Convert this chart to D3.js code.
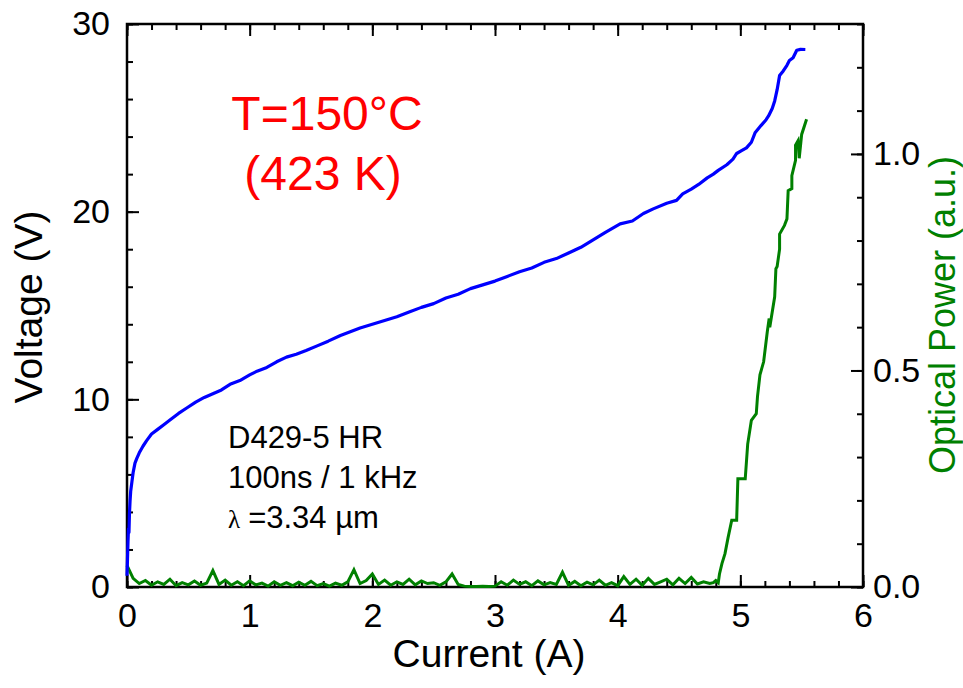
<!DOCTYPE html>
<html>
<head>
<meta charset="utf-8">
<script src="https://cdn.jsdelivr.net/npm/d3@7"></script>
<style>
  html, body { margin: 0; padding: 0; background: #fff; }
  svg { display: block; font-family: "Liberation Sans", Arial, sans-serif; }
</style>
</head>
<body>
<svg id="chart" width="963" height="688"></svg>
<script>
// Voltage–current characteristic (left axis)
const ivCurrent = [0, 0.004, 0.008, 0.012, 0.016, 0.02, 0.025, 0.03, 0.04, 0.05,
  0.065, 0.08, 0.1, 0.13, 0.16, 0.2, 0.25, 0.3, 0.35, 0.42,
  0.49, 0.56, 0.63, 0.7, 0.77, 0.84, 0.92, 1.0, 1.06, 1.14,
  1.22, 1.3, 1.38, 1.46, 1.55, 1.64, 1.74, 1.82, 1.9, 2.0,
  2.1, 2.2, 2.3, 2.4, 2.5, 2.6, 2.7, 2.8, 2.9, 3.0,
  3.1, 3.2, 3.3, 3.4, 3.5, 3.6, 3.7, 3.8, 3.9, 4.02,
  4.12, 4.21, 4.29, 4.4, 4.48, 4.53, 4.6, 4.66, 4.73, 4.78,
  4.82, 4.89, 4.94, 4.97, 5.01, 5.05, 5.09, 5.12, 5.17, 5.21,
  5.23, 5.26, 5.28, 5.3, 5.32, 5.35, 5.38, 5.4, 5.43, 5.46,
  5.49, 5.53];
const ivVoltage = [0.6, 1.5, 2.4, 3.1, 2.9, 3.9, 4.6, 5.1, 5.6, 6.1,
  6.6, 6.85, 7.15, 7.5, 7.8, 8.15, 8.4, 8.65, 8.9, 9.25,
  9.55, 9.85, 10.1, 10.3, 10.5, 10.8, 11.0, 11.3, 11.5, 11.7,
  12.0, 12.25, 12.4, 12.6, 12.85, 13.1, 13.4, 13.6, 13.8, 14.0,
  14.2, 14.4, 14.65, 14.9, 15.1, 15.4, 15.6, 15.9, 16.1, 16.3,
  16.55, 16.8, 17.0, 17.3, 17.5, 17.8, 18.1, 18.5, 18.9, 19.35,
  19.5, 19.9, 20.15, 20.45, 20.6, 20.95, 21.2, 21.45, 21.8, 22.0,
  22.2, 22.5, 22.8, 23.1, 23.25, 23.4, 23.7, 24.2, 24.6, 24.9,
  25.1, 25.5, 25.9, 26.5, 27.25, 27.5, 27.8, 28.05, 28.2, 28.6,
  28.65, 28.64];

// Light output (right axis)
const optCurrent = [0, 0.05, 0.1, 0.15, 0.2, 0.25, 0.3, 0.35, 0.4, 0.45,
  0.5, 0.55, 0.6, 0.65, 0.7, 0.75, 0.8, 0.85, 0.9, 0.95,
  1.0, 1.05, 1.1, 1.15, 1.2, 1.25, 1.3, 1.35, 1.4, 1.45,
  1.5, 1.55, 1.6, 1.65, 1.7, 1.75, 1.8, 1.85, 1.9, 1.95,
  2.0, 2.05, 2.1, 2.15, 2.2, 2.25, 2.3, 2.35, 2.4, 2.45,
  2.5, 2.55, 2.6, 2.65, 2.7, 2.75, 2.8, 2.85, 2.9, 2.95,
  3.0, 3.05, 3.1, 3.15, 3.2, 3.25, 3.3, 3.35, 3.4, 3.45,
  3.5, 3.55, 3.6, 3.65, 3.7, 3.75, 3.8, 3.85, 3.9, 3.95,
  4.0, 4.05, 4.1, 4.15, 4.2, 4.25, 4.3, 4.35, 4.4, 4.45,
  4.5, 4.55, 4.6, 4.65, 4.7, 4.75, 4.78, 4.8, 4.82, 4.83,
  4.85, 4.875, 4.9, 4.93, 4.97, 4.98, 5.04, 5.06, 5.09, 5.13,
  5.14, 5.16, 5.19, 5.22, 5.235, 5.24, 5.28, 5.29, 5.3, 5.32,
  5.32, 5.36, 5.38, 5.39, 5.42, 5.42, 5.45, 5.45, 5.47, 5.48,
  5.5, 5.54];
const optPower = [0.05, 0.02, 0.008, 0.015, 0.004, 0.012, 0.006, 0.018, 0.003, 0.01,
  0.005, 0.014, 0.004, 0.009, 0.038, 0.006, 0.016, 0.004, 0.012, 0.003,
  0.014, 0.005, 0.009, 0.002, 0.012, 0.004, 0.01, 0.003, 0.011, 0.004,
  0.013, 0.003, 0.008, 0.002, 0.009, 0.004, 0.012, 0.04, 0.008, 0.015,
  0.03, 0.006, 0.016, 0.004, 0.012, 0.006, 0.018, 0.005, 0.014, 0.008,
  0.01, 0.004, 0.012, 0.03, 0.006, 0.002, 0.001, 0.001, 0.002, 0.001,
  0.002, 0.012, 0.004, 0.016, 0.006, 0.012, 0.003, 0.014, 0.005, 0.01,
  0.006, 0.034, 0.004, 0.013, 0.003, 0.011, 0.005, 0.016, 0.004, 0.01,
  0.003, 0.024, 0.006, 0.018, 0.004, 0.02, 0.006, 0.012, 0.018, 0.005,
  0.02, 0.008, 0.022, 0.007, 0.012, 0.008, 0.01, 0.015, 0.01, 0.03,
  0.054, 0.077, 0.114, 0.154, 0.154, 0.25, 0.25, 0.33, 0.385, 0.4,
  0.44, 0.49, 0.52, 0.59, 0.62, 0.6, 0.67, 0.735, 0.74, 0.78,
  0.815, 0.835, 0.85, 0.915, 0.92, 0.95, 0.985, 1.02, 1.03, 0.99,
  1.045, 1.08];

const xMajor = [0, 1, 2, 3, 4, 5, 6];
const yLeftMajor = [0, 10, 20, 30];
const yRightMajor = [0.0, 0.5, 1.0];

const svg = d3.select("#chart");
const L = 127, R = 863, T = 24, B = 587;

const x = d3.scaleLinear().domain([0, 6]).range([L, R]);
const yL = d3.scaleLinear().domain([0, 30]).range([B, T]);
const yR = d3.scaleLinear().domain([0, 1.3]).range([B, T]);

const tickFont = 34;
function styleAxis(g) {
  g.select(".domain").remove();
  g.selectAll(".tick line").attr("stroke", "#000").attr("stroke-width", 2);
  g.selectAll("text").attr("font-size", tickFont).attr("fill", "#000")
    .attr("font-family", "Liberation Sans, Arial, sans-serif");
}

const xMinor = d3.range(0, 6.0001, 0.2);
// bottom axis
svg.append("g").attr("transform", `translate(0,${B})`)
  .call(d3.axisBottom(x).tickValues(xMinor).tickSize(-6).tickFormat(""))
  .call(styleAxis);
svg.append("g").attr("transform", `translate(0,${B})`)
  .call(d3.axisBottom(x).tickValues(xMajor).tickSize(-12).tickPadding(16).tickFormat(d3.format("d")))
  .call(styleAxis);
// top axis
svg.append("g").attr("transform", `translate(0,${T})`)
  .call(d3.axisTop(x).tickValues(xMinor).tickSize(-6).tickFormat(""))
  .call(styleAxis);
svg.append("g").attr("transform", `translate(0,${T})`)
  .call(d3.axisTop(x).tickValues(xMajor).tickSize(-12).tickFormat(""))
  .call(styleAxis);
// left axis
svg.append("g").attr("transform", `translate(${L},0)`)
  .call(d3.axisLeft(yL).tickValues(d3.range(0, 30.001, 2)).tickSize(-6).tickFormat(""))
  .call(styleAxis);
svg.append("g").attr("transform", `translate(${L},0)`)
  .call(d3.axisLeft(yL).tickValues(yLeftMajor).tickSize(-12).tickPadding(17).tickFormat(d3.format("d")))
  .call(styleAxis);
// right axis
svg.append("g").attr("transform", `translate(${R},0)`)
  .call(d3.axisRight(yR).tickValues(d3.range(0, 1.3001, 0.1)).tickSize(-6).tickFormat(""))
  .call(styleAxis);
svg.append("g").attr("transform", `translate(${R},0)`)
  .call(d3.axisRight(yR).tickValues(yRightMajor).tickSize(-12).tickPadding(10).tickFormat(d3.format(".1f")))
  .call(styleAxis);

// plot frame
svg.append("rect").attr("x", L).attr("y", T).attr("width", R - L).attr("height", B - T)
  .attr("fill", "none").attr("stroke", "#000").attr("stroke-width", 2.5);

// curves
const ivLine = d3.line().x((d, i) => x(ivCurrent[i])).y(d => yL(d));
const optLine = d3.line().x((d, i) => x(optCurrent[i])).y(d => yR(d));

svg.append("path").datum(optPower).attr("d", optLine)
  .attr("fill", "none").attr("stroke", "#008000").attr("stroke-width", 3)
  .attr("stroke-linejoin", "miter");
svg.append("path").datum(ivVoltage).attr("d", ivLine)
  .attr("fill", "none").attr("stroke", "#0000ff").attr("stroke-width", 3.2)
  .attr("stroke-linejoin", "round");

// axis titles
svg.append("text").attr("x", 489).attr("y", 667).attr("text-anchor", "middle")
  .attr("font-size", 39).attr("fill", "#000").text("Current (A)");
svg.append("text").attr("transform", "translate(42,307) rotate(-90)").attr("text-anchor", "middle")
  .attr("font-size", 39).attr("fill", "#000").text("Voltage (V)");
svg.append("text").attr("transform", "translate(955,315) rotate(-90)").attr("text-anchor", "middle")
  .attr("font-size", 36).attr("fill", "#008000").text("Optical Power (a.u.)");

// temperature annotation
svg.append("text").attr("x", 327).attr("y", 130).attr("text-anchor", "middle")
  .attr("font-size", 48).attr("fill", "#ff0000").text("T=150°C");
svg.append("text").attr("x", 323).attr("y", 190).attr("text-anchor", "middle")
  .attr("font-size", 48).attr("fill", "#ff0000").text("(423 K)");

// device notes
const notes = svg.append("g").attr("font-size", 31).attr("fill", "#000");
notes.append("text").attr("x", 228).attr("y", 448).text("D429-5 HR");
notes.append("text").attr("x", 228).attr("y", 488).text("100ns / 1 kHz");
const lam = notes.append("text").attr("x", 228).attr("y", 528);
lam.append("tspan").attr("font-family", "Liberation Serif, serif").attr("font-size", 25).text("λ");
lam.append("tspan").attr("dx", 8).text("=3.34 µm");
</script>
</body>
</html>
